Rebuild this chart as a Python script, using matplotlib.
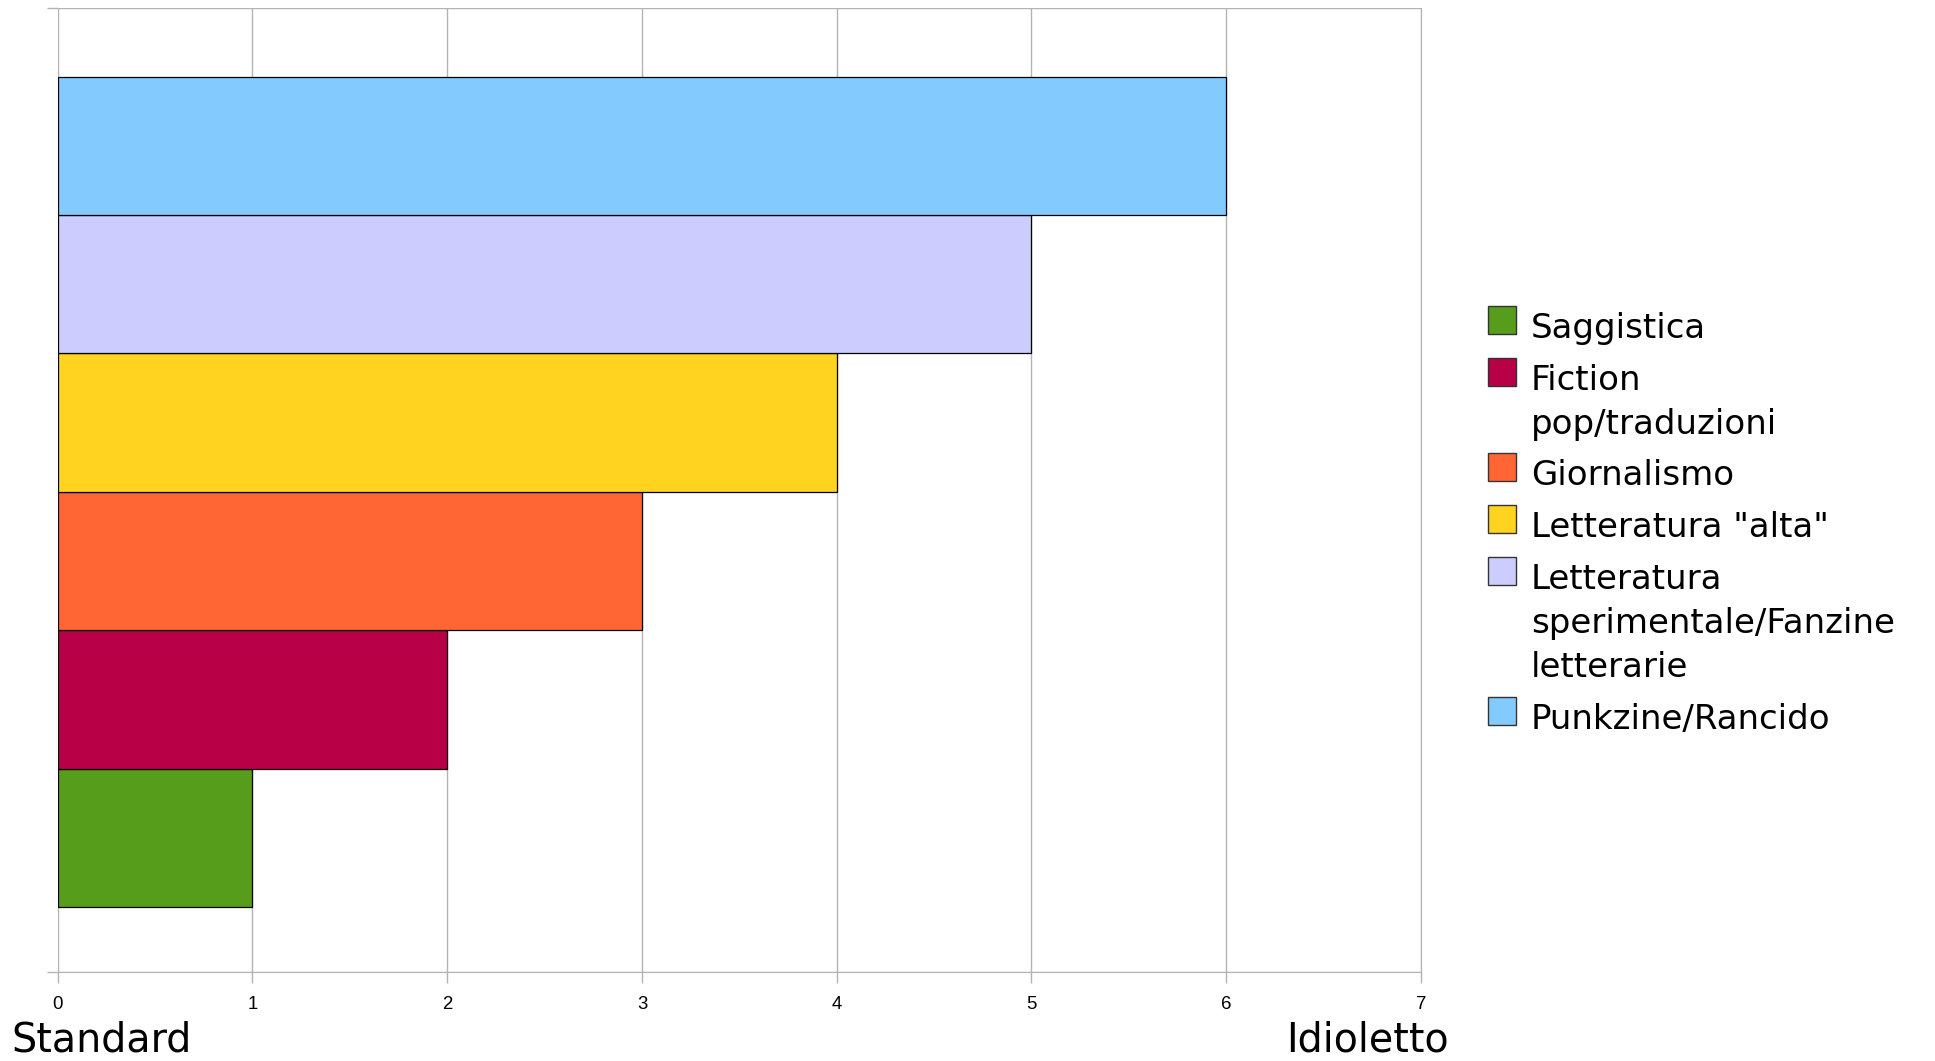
import matplotlib.pyplot as plt
import numpy as np

categories = ["Saggistica", "Fiction\npop/traduzioni", "Giornalismo",
              "Letteratura \"alta\"", "Letteratura\nsperimentale/Fanzine\nletterarie",
              "Punkzine/Rancido"]
values = [1, 2, 3, 4, 5, 6]
colors = ["#579d1c", "#b80047", "#ff6633", "#ffd320", "#ccccff", "#83caff"]
xticks = [0, 1, 2, 3, 4, 5, 6, 7]

W, H = 1935, 1061
fig = plt.figure(figsize=(W / 100, H / 100), dpi=100)
ax = fig.add_axes([57.7 / W, 89 / H, (1421 - 57.7) / W, (972 - 7.5) / H])

pos = np.arange(len(values))
ax.barh(pos, values, height=1.0, color=colors, edgecolor="black", linewidth=0.9, zorder=3)

ax.set_xlim(0, 7)
ylo, yhi = -0.97, 6.0
ax.set_ylim(ylo, yhi)
ax.set_xticks(xticks)
ax.set_xticklabels([str(t) for t in xticks], family="Liberation Sans", fontsize=13.4)
ax.set_yticks([ylo, yhi])
ax.set_yticklabels([])
ax.tick_params(axis="x", length=8, width=1, color="#b3b3b3", pad=9)
ax.tick_params(axis="y", length=8, width=1, color="#b3b3b3")
ax.grid(True, axis="both", color="#b3b3b3", linewidth=1, zorder=0)
for s in ax.spines.values():
    s.set_visible(False)
for side in ("bottom", "right"):
    ax.spines[side].set_visible(True)
    ax.spines[side].set_color("#b3b3b3")

fig.text(11 / W, 1 / H, "Standard", fontsize=28.5, va="bottom", ha="left")
fig.text(1286 / W, 1 / H, "Idioletto", fontsize=28.5, va="bottom", ha="left")

# legend drawn by hand so the swatch sits on the first line
base = 338.0
for lab, col in zip(categories, colors):
    lines = lab.split("\n")
    fig.patches.append(plt.Rectangle((1488 / W, (H - base + 4) / H), 28 / W, 28 / H,
                                     transform=fig.transFigure, facecolor=col,
                                     edgecolor="#333333", linewidth=1))
    for k, ln in enumerate(lines):
        fig.text(1531 / W, (H - base - 44 * k) / H, ln, fontsize=24.5,
                 va="baseline", ha="left")
    base += 51.7 + 44 * (len(lines) - 1)

fig.savefig("out.png", dpi=100)
